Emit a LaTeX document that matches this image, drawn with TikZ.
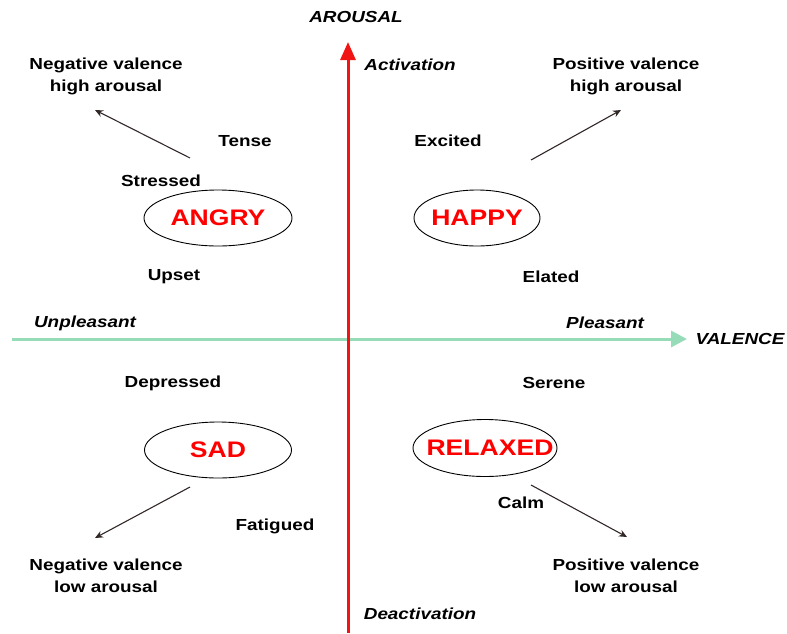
\documentclass[tikz,border=0pt]{standalone}
\usepackage{fontspec}
\setmainfont[FakeStretch=1.18]{Liberation Sans}
\usetikzlibrary{arrows.meta,shapes.geometric}
\definecolor{axisred}{RGB}{240,20,20}
\definecolor{axisgreen}{RGB}{150,220,185}
\definecolor{moodred}{RGB}{255,0,0}
\definecolor{pointer}{RGB}{50,40,40}
\tikzset{
  lbl/.style={font=\bfseries\fontsize{16}{22}\selectfont, align=center, inner sep=0pt},
  axlbl/.style={font=\bfseries\itshape\fontsize{16}{18}\selectfont, inner sep=0pt},
  moodring/.style={ellipse, draw=black, line width=0.9pt, inner sep=0pt},
  moodtext/.style={inner sep=0pt, font=\bfseries\fontsize{22.5}{24}\selectfont, text=moodred},
  pointerarrow/.style={draw=pointer, line width=1.1pt, -{Stealth[length=8pt,width=7pt]}}
}
\begin{document}
\begin{tikzpicture}[x=1pt,y=-1pt]
\useasboundingbox (0,0) rectangle (787,633);

% axes
\coordinate (vbot) at (348,633);
\coordinate (vtop) at (348,42);
\coordinate (hleft) at (12,339);
\coordinate (hright) at (687,339);
\draw[axisgreen, line width=3pt, -{Triangle[length=16pt,width=16pt]}] (hleft) -- (hright);
\draw[axisred, line width=3pt, -{Triangle[length=18pt,width=15pt]}] (vbot) -- (vtop);

% axis captions
\node[axlbl] (arousal) at (356,17) {AROUSAL};
\node[axlbl] (activation) at (410,65) {Activation};
\node[axlbl] (deactivation) at (420,614) {Deactivation};
\node[axlbl] (unpleasant) at (85,323) {Unpleasant};
\node[axlbl] (pleasant) at (605,323) {Pleasant};
\node[axlbl] (valence) at (740,339) {VALENCE};

% quadrant captions
\node[lbl] (nh) at (106,76) {Negative valence\\high arousal};
\node[lbl] (ph) at (626,76) {Positive valence\\high arousal};
\node[lbl] (nl) at (106,576) {Negative valence\\low arousal};
\node[lbl] (pl) at (626,576) {Positive valence\\low arousal};

% affect words
\node[lbl] (tense) at (245,141) {Tense};
\node[lbl] (excited) at (448,141) {Excited};
\node[lbl] (stressed) at (161,181) {Stressed};
\node[lbl] (upset) at (174,277) {Upset};
\node[lbl] (elated) at (551,277) {Elated};
\node[lbl] (depressed) at (173,383) {Depressed};
\node[lbl] (serene) at (554,383) {Serene};
\node[lbl] (fatigued) at (275,526) {Fatigued};
\node[lbl] (calm) at (521,503) {Calm};

% emotions: outline first, word on top
\node[moodring, minimum width=148pt, minimum height=56pt] (angry) at (218,218) {};
\node[moodring, minimum width=126pt, minimum height=56pt] (happy) at (477,218) {};
\node[moodring, minimum width=147pt, minimum height=56pt] (sad) at (218,450) {};
\node[moodring, minimum width=144pt, minimum height=57pt] (relaxed) at (485,448) {};
\node[moodtext] (angrytxt) at (angry) {ANGRY};
\node[moodtext] (happytxt) at (happy) {HAPPY};
\node[moodtext] (sadtxt) at (sad) {SAD};
\node[moodtext] (relaxedtxt) at ([xshift=5pt]relaxed.center) {RELAXED};

% pointers towards the quadrant captions
\coordinate (nwfrom) at (190,158);
\coordinate (nwto) at (95,110);
\coordinate (nefrom) at (531,160);
\coordinate (neto) at (621,110);
\coordinate (swfrom) at (190,487);
\coordinate (swto) at (95,538);
\coordinate (sefrom) at (531,485);
\coordinate (seto) at (627,537);
\draw[pointerarrow] (nwfrom) -- (nwto);
\draw[pointerarrow] (nefrom) -- (neto);
\draw[pointerarrow] (swfrom) -- (swto);
\draw[pointerarrow] (sefrom) -- (seto);
\end{tikzpicture}
\end{document}
